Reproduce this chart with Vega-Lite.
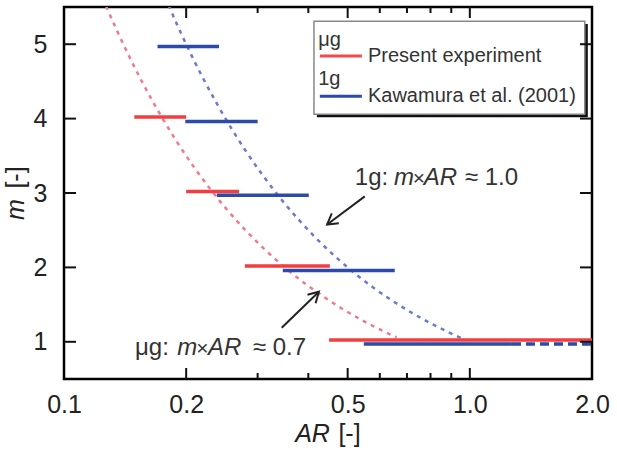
{
"$schema":"https://vega.github.io/schema/vega-lite/v6.json",
"width":528,"height":372,
"autosize":{"type":"none"},
"padding":{"left":64,"top":7,"right":25,"bottom":71},
"config":{"view":{"stroke":"#000","strokeWidth":2.5},"font":"Liberation Sans",
 "axis":{"domain":false,"grid":false,"ticks":false,"labelFont":"Liberation Sans","labelFontSize":25,"labelColor":"#222","titleFont":"Liberation Sans","titleFontSize":25,"titleColor":"#222","titleFontWeight":"normal","labelOverlap":false,"labelFlush":false}},
"datasets":{
 "curves":[
  {"c":"mu","ar":0.127,"m":5.512},{"c":"mu","ar":0.135,"m":5.185},{"c":"mu","ar":0.145,"m":4.828},{"c":"mu","ar":0.155,"m":4.516},{"c":"mu","ar":0.165,"m":4.242},{"c":"mu","ar":0.175,"m":4.0},{"c":"mu","ar":0.19,"m":3.684},{"c":"mu","ar":0.21,"m":3.333},{"c":"mu","ar":0.23,"m":3.043},{"c":"mu","ar":0.25,"m":2.8},{"c":"mu","ar":0.28,"m":2.5},{"c":"mu","ar":0.31,"m":2.258},{"c":"mu","ar":0.35,"m":2.0},{"c":"mu","ar":0.4,"m":1.75},{"c":"mu","ar":0.45,"m":1.556},{"c":"mu","ar":0.5,"m":1.4},{"c":"mu","ar":0.56,"m":1.25},{"c":"mu","ar":0.62,"m":1.129},{"c":"mu","ar":0.66,"m":1.061},
  {"c":"1g","ar":0.181,"m":5.525},{"c":"1g","ar":0.19,"m":5.263},{"c":"1g","ar":0.2,"m":5.0},{"c":"1g","ar":0.22,"m":4.545},{"c":"1g","ar":0.24,"m":4.167},{"c":"1g","ar":0.26,"m":3.846},{"c":"1g","ar":0.28,"m":3.571},{"c":"1g","ar":0.31,"m":3.226},{"c":"1g","ar":0.34,"m":2.941},{"c":"1g","ar":0.38,"m":2.632},{"c":"1g","ar":0.42,"m":2.381},{"c":"1g","ar":0.47,"m":2.128},{"c":"1g","ar":0.52,"m":1.923},{"c":"1g","ar":0.58,"m":1.724},{"c":"1g","ar":0.65,"m":1.538},{"c":"1g","ar":0.72,"m":1.389},{"c":"1g","ar":0.8,"m":1.25},{"c":"1g","ar":0.88,"m":1.136},{"c":"1g","ar":0.95,"m":1.053}
 ],
 "segs":[
  {"s":"mu","a1":0.149,"a2":0.2,"m":4.02},
  {"s":"mu","a1":0.2,"a2":0.27,"m":3.02},
  {"s":"mu","a1":0.279,"a2":0.452,"m":2.02},
  {"s":"mu","a1":0.45,"a2":2.0,"m":1.025},
  {"s":"1g","a1":0.17,"a2":0.241,"m":4.97},
  {"s":"1g","a1":0.199,"a2":0.3,"m":3.96},
  {"s":"1g","a1":0.238,"a2":0.401,"m":2.97},
  {"s":"1g","a1":0.346,"a2":0.653,"m":1.96},
  {"s":"1g","a1":0.548,"a2":1.27,"m":0.97}
 ],
 "dash":[{"s":"1g","a1":1.27,"a2":2.0,"m":0.97}],
 "shadow":[{"a1":0.42,"a2":1.953,"m1":5.27,"m2":4.017}],
 "box":[{"a1":0.413,"a2":1.92,"m1":5.31,"m2":4.06}],
 "legline":[{"s":"mu","a1":0.427,"a2":0.542,"m":4.84},{"s":"1g","a1":0.427,"a2":0.542,"m":4.30}],
 "legtext":[
  {"ar":0.423,"m":5.05,"t":"μg"},
  {"ar":0.561,"m":4.84,"t":"Present experiment"},
  {"ar":0.423,"m":4.53,"t":"1g"},
  {"ar":0.561,"m":4.30,"t":"Kawamura et al. (2001)"}
 ],
 "annN":[
  {"ar":0.5208,"m":3.114,"t":"1g:"},
  {"ar":0.972,"m":3.114,"t":"≈ 1.0"},
  {"ar":0.1496,"m":0.825,"t":"μg:"},
  {"ar":0.292,"m":0.825,"t":"≈ 0.7"}
 ],
 "annI":[
  {"ar":0.65,"m":3.114,"t":"m"},
  {"ar":0.77,"m":3.114,"t":"AR"},
  {"ar":0.19,"m":0.825,"t":"m"},
  {"ar":0.2263,"m":0.825,"t":"AR"}
 ],
 "annX":[
  {"ar":0.749,"m":3.114,"t":"×"},
  {"ar":0.2194,"m":0.825,"t":"×"}
 ],
 "arrows":[
  {"id":"a1s","o":1,"ar":0.551,"m":2.954},{"id":"a1s","o":2,"ar":0.445,"m":2.577},
  {"id":"a1h","o":1,"ar":0.4755,"m":2.595},{"id":"a1h","o":2,"ar":0.445,"m":2.577},{"id":"a1h","o":3,"ar":0.4569,"m":2.725},
  {"id":"a2s","o":1,"ar":0.3439,"m":1.189},{"id":"a2s","o":2,"ar":0.4247,"m":1.673},
  {"id":"a2h","o":1,"ar":0.398,"m":1.633},{"id":"a2h","o":2,"ar":0.4247,"m":1.673},{"id":"a2h","o":3,"ar":0.4168,"m":1.517}
 ],
 "xmajor":[{"ar":0.2},{"ar":0.5},{"ar":1.0}],
 "xminor":[{"ar":0.3},{"ar":0.4},{"ar":0.6},{"ar":0.7},{"ar":0.8},{"ar":0.9}],
 "yticks":[{"m":1},{"m":2},{"m":3},{"m":4},{"m":5}]
},
"resolve":{"scale":{"color":"independent"},"axis":{"x":"independent","y":"independent"}},
"layer":[
 {"data":{"name":"curves"},
  "mark":{"type":"line","strokeWidth":2.5,"strokeDash":[4,5],"interpolate":"monotone","clip":true},
  "encoding":{
   "x":{"field":"ar","type":"quantitative","scale":{"type":"log","domain":[0.1,2],"nice":false},"axis":null},
   "y":{"field":"m","type":"quantitative","scale":{"domain":[0.5,5.5],"nice":false,"zero":false},"axis":null},
   "color":{"field":"c","type":"nominal","scale":{"domain":["mu","1g"],"range":["#f27a8a","#6b7bc6"]},"legend":null}
  }},
 {"data":{"name":"segs"},
  "mark":{"type":"rule","strokeWidth":3.5,"clip":true},
  "encoding":{
   "x":{"field":"a1","type":"quantitative","scale":{"type":"log","domain":[0.1,2],"nice":false},
        "axis":{"orient":"bottom","values":[0.1,0.2,0.5,1,2],"format":".1f","labelPadding":13,
                "title":"AR","titleFontStyle":"italic","titleX":248,"titleY":62,"titleBaseline":"alphabetic"}},
   "x2":{"field":"a2"},
   "y":{"field":"m","type":"quantitative","scale":{"domain":[0.5,5.5],"nice":false,"zero":false},
        "axis":{"orient":"left","values":[1,2,3,4,5],"format":"d","labelPadding":17,
                "title":"m","titleFontStyle":"italic","titleX":-41,"titleY":202,"titleBaseline":"alphabetic","titleAngle":270}},
   "color":{"field":"s","type":"nominal","scale":{"domain":["mu","1g"],"range":["#f23e3e","#2b4aaa"]},"legend":null}
  }},
 {"data":{"name":"dash"},
  "mark":{"type":"rule","strokeWidth":3.5,"strokeDash":[9,5],"color":"#2b4aaa","clip":true},
  "encoding":{
   "x":{"field":"a1","type":"quantitative","scale":{"type":"log","domain":[0.1,2],"nice":false},
        "axis":{"orient":"bottom","values":[0.3],"labels":false,
                "title":"[-]","titleX":285,"titleY":62,"titleBaseline":"alphabetic"}},
   "x2":{"field":"a2"},
   "y":{"field":"m","type":"quantitative","scale":{"domain":[0.5,5.5],"nice":false,"zero":false},
        "axis":{"orient":"left","values":[1],"labels":false,
                "title":"[-]","titleX":-41,"titleY":170,"titleBaseline":"alphabetic","titleAngle":270}}
  }},
 {"data":{"name":"shadow"},
  "mark":{"type":"rect","color":"#111"},
  "encoding":{
   "x":{"field":"a1","type":"quantitative","scale":{"type":"log","domain":[0.1,2],"nice":false},"axis":null},
   "x2":{"field":"a2"},
   "y":{"field":"m1","type":"quantitative","scale":{"domain":[0.5,5.5],"nice":false,"zero":false},"axis":null},
   "y2":{"field":"m2"}
  }},
 {"data":{"name":"box"},
  "mark":{"type":"rect","fill":"#fff","stroke":"#888","strokeWidth":1.5},
  "encoding":{
   "x":{"field":"a1","type":"quantitative","scale":{"type":"log","domain":[0.1,2],"nice":false},"axis":null},
   "x2":{"field":"a2"},
   "y":{"field":"m1","type":"quantitative","scale":{"domain":[0.5,5.5],"nice":false,"zero":false},"axis":null},
   "y2":{"field":"m2"}
  }},
 {"data":{"name":"legline"},
  "mark":{"type":"rule","strokeWidth":3},
  "encoding":{
   "x":{"field":"a1","type":"quantitative","scale":{"type":"log","domain":[0.1,2],"nice":false},"axis":null},
   "x2":{"field":"a2"},
   "y":{"field":"m","type":"quantitative","scale":{"domain":[0.5,5.5],"nice":false,"zero":false},"axis":null},
   "color":{"field":"s","type":"nominal","scale":{"domain":["mu","1g"],"range":["#f24a4a","#2b4aaa"]},"legend":null}
  }},
 {"data":{"name":"legtext"},
  "mark":{"type":"text","align":"left","baseline":"middle","fontSize":20,"color":"#333"},
  "encoding":{
   "x":{"field":"ar","type":"quantitative","scale":{"type":"log","domain":[0.1,2],"nice":false},"axis":null},
   "y":{"field":"m","type":"quantitative","scale":{"domain":[0.5,5.5],"nice":false,"zero":false},"axis":null},
   "text":{"field":"t"}
  }},
 {"data":{"name":"annN"},
  "mark":{"type":"text","align":"left","baseline":"alphabetic","fontSize":24,"color":"#333"},
  "encoding":{
   "x":{"field":"ar","type":"quantitative","scale":{"type":"log","domain":[0.1,2],"nice":false},"axis":null},
   "y":{"field":"m","type":"quantitative","scale":{"domain":[0.5,5.5],"nice":false,"zero":false},"axis":null},
   "text":{"field":"t"}
  }},
 {"data":{"name":"annI"},
  "mark":{"type":"text","align":"left","baseline":"alphabetic","fontSize":24,"fontStyle":"italic","color":"#333"},
  "encoding":{
   "x":{"field":"ar","type":"quantitative","scale":{"type":"log","domain":[0.1,2],"nice":false},"axis":null},
   "y":{"field":"m","type":"quantitative","scale":{"domain":[0.5,5.5],"nice":false,"zero":false},"axis":null},
   "text":{"field":"t"}
  }},
 {"data":{"name":"annX"},
  "mark":{"type":"text","align":"center","baseline":"alphabetic","fontSize":21,"color":"#333"},
  "encoding":{
   "x":{"field":"ar","type":"quantitative","scale":{"type":"log","domain":[0.1,2],"nice":false},"axis":null},
   "y":{"field":"m","type":"quantitative","scale":{"domain":[0.5,5.5],"nice":false,"zero":false},"axis":null},
   "text":{"field":"t"}
  }},
 {"data":{"name":"arrows"},
  "mark":{"type":"line","strokeWidth":2,"color":"#222"},
  "encoding":{
   "x":{"field":"ar","type":"quantitative","scale":{"type":"log","domain":[0.1,2],"nice":false},"axis":null},
   "y":{"field":"m","type":"quantitative","scale":{"domain":[0.5,5.5],"nice":false,"zero":false},"axis":null},
   "detail":{"field":"id"},
   "order":{"field":"o"}
  }},
 {"data":{"name":"xmajor"},
  "mark":{"type":"rule","strokeWidth":2,"color":"#111"},
  "encoding":{
   "x":{"field":"ar","type":"quantitative","scale":{"type":"log","domain":[0.1,2],"nice":false},"axis":null},
   "y":{"datum":0.5,"type":"quantitative","scale":{"domain":[0.5,5.5],"nice":false,"zero":false},"axis":null},
   "y2":{"datum":0.648}
  }},
 {"data":{"name":"xmajor"},
  "mark":{"type":"rule","strokeWidth":2,"color":"#111"},
  "encoding":{
   "x":{"field":"ar","type":"quantitative","scale":{"type":"log","domain":[0.1,2],"nice":false},"axis":null},
   "y":{"datum":5.5,"type":"quantitative","scale":{"domain":[0.5,5.5],"nice":false,"zero":false},"axis":null},
   "y2":{"datum":5.352}
  }},
 {"data":{"name":"xminor"},
  "mark":{"type":"rule","strokeWidth":2,"color":"#111"},
  "encoding":{
   "x":{"field":"ar","type":"quantitative","scale":{"type":"log","domain":[0.1,2],"nice":false},"axis":null},
   "y":{"datum":0.5,"type":"quantitative","scale":{"domain":[0.5,5.5],"nice":false,"zero":false},"axis":null},
   "y2":{"datum":0.581}
  }},
 {"data":{"name":"xminor"},
  "mark":{"type":"rule","strokeWidth":2,"color":"#111"},
  "encoding":{
   "x":{"field":"ar","type":"quantitative","scale":{"type":"log","domain":[0.1,2],"nice":false},"axis":null},
   "y":{"datum":5.5,"type":"quantitative","scale":{"domain":[0.5,5.5],"nice":false,"zero":false},"axis":null},
   "y2":{"datum":5.419}
  }},
 {"data":{"name":"yticks"},
  "mark":{"type":"rule","strokeWidth":2,"color":"#111"},
  "encoding":{
   "x":{"datum":0.1,"type":"quantitative","scale":{"type":"log","domain":[0.1,2],"nice":false},"axis":null},
   "x2":{"datum":0.10705},
   "y":{"field":"m","type":"quantitative","scale":{"domain":[0.5,5.5],"nice":false,"zero":false},"axis":null}
  }},
 {"data":{"name":"yticks"},
  "mark":{"type":"rule","strokeWidth":2,"color":"#111"},
  "encoding":{
   "x":{"datum":2.0,"type":"quantitative","scale":{"type":"log","domain":[0.1,2],"nice":false},"axis":null},
   "x2":{"datum":1.8683},
   "y":{"field":"m","type":"quantitative","scale":{"domain":[0.5,5.5],"nice":false,"zero":false},"axis":null}
  }}
]
}
